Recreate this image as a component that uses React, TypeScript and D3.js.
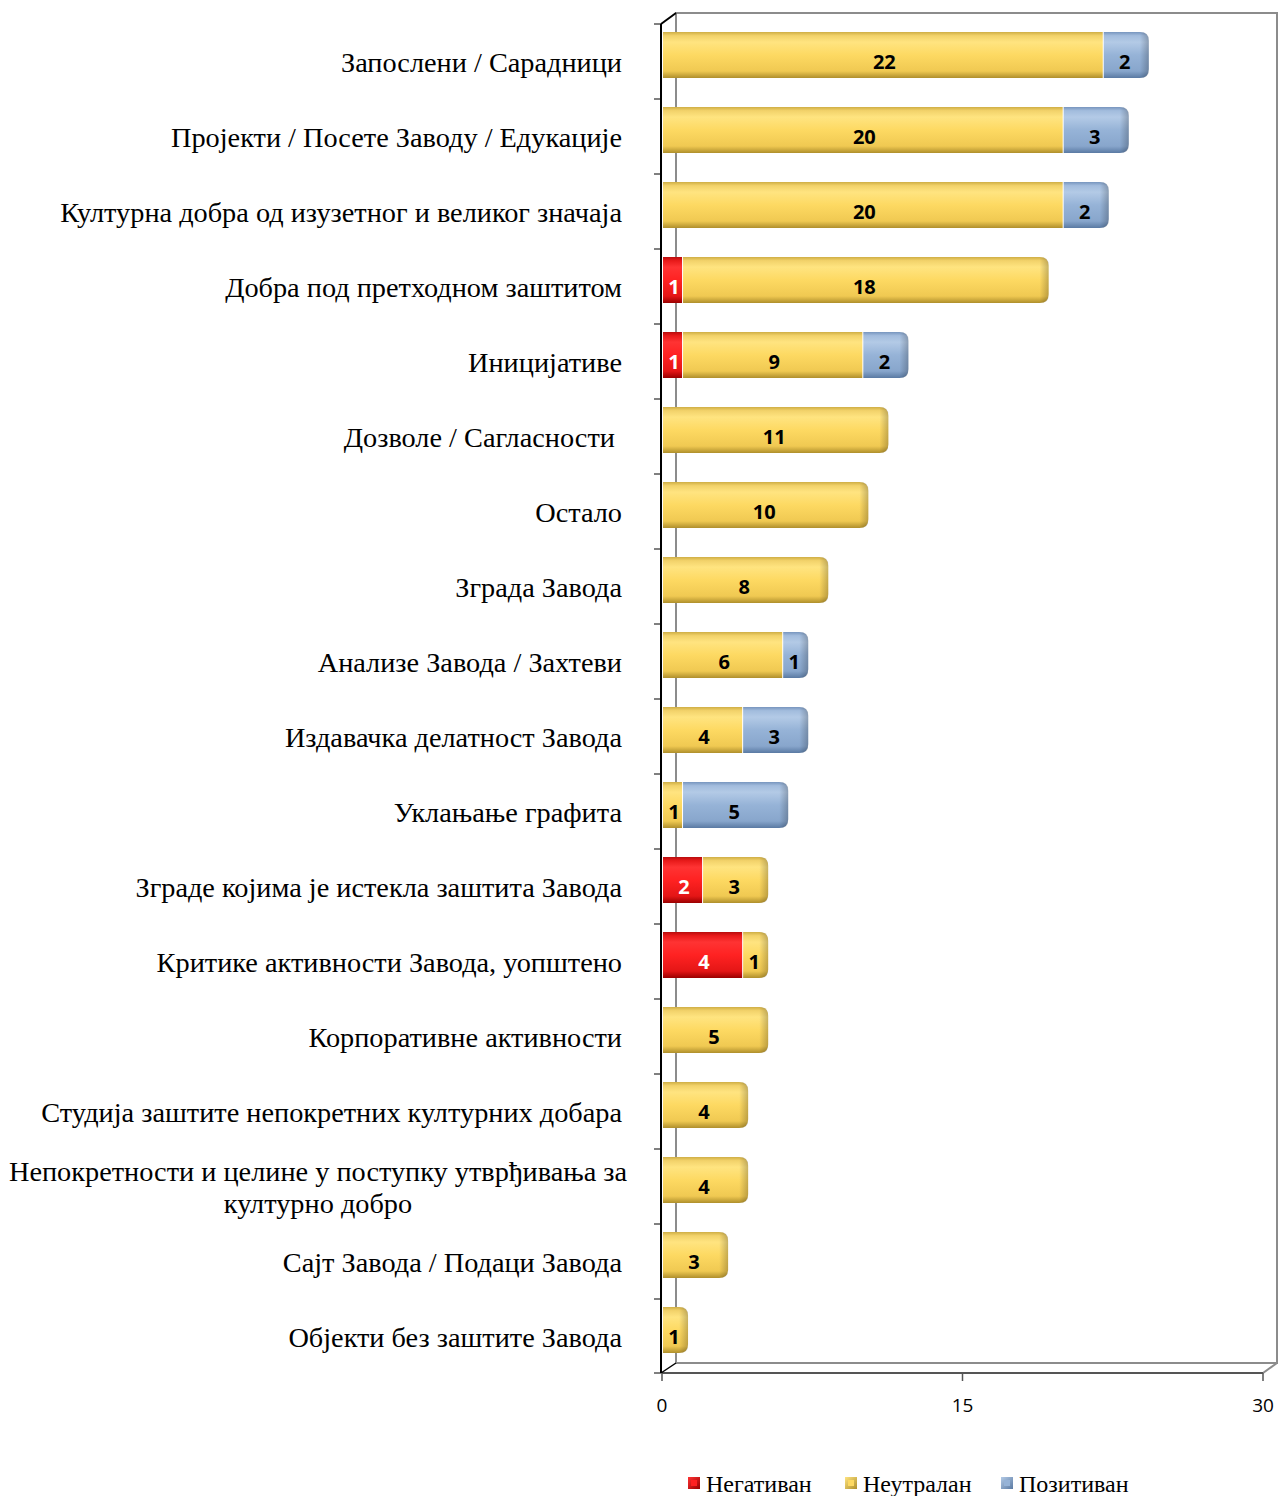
import React from "react";
import * as d3 from "d3";

const categories: string[][] = [
  ["Запослени / Сарадници"],
  ["Пројекти / Посете Заводу / Едукације"],
  ["Културна добра од изузетног и великог значаја"],
  ["Добра под претходном заштитом"],
  ["Иницијативе"],
  ["Дозволе / Сагласности "],
  ["Остало"],
  ["Зграда Завода"],
  ["Анализе Завода / Захтеви"],
  ["Издавачка делатност Завода"],
  ["Уклањање графита"],
  ["Зграде којима је истекла заштита Завода"],
  ["Критике активности Завода, уопштено"],
  ["Корпоративне активности"],
  ["Студија заштите непокретних културних добара"],
  ["Непокретности и целине у поступку утврђивања за", "културно добро"],
  ["Сајт Завода / Подаци Завода"],
  ["Објекти без заштите Завода"],
];

const negative = [0, 0, 0, 1, 1, 0, 0, 0, 0, 0, 0, 2, 4, 0, 0, 0, 0, 0];
const neutral = [22, 20, 20, 18, 9, 11, 10, 8, 6, 4, 1, 3, 1, 5, 4, 4, 3, 1];
const positive = [2, 3, 2, 0, 2, 0, 0, 0, 1, 3, 5, 0, 0, 0, 0, 0, 0, 0];

const seriesNames = ["Негативан", "Неутралан", "Позитиван"];
const xTicks = [0, 15, 30];

const W = 1279;
const H = 1496;

const gradStops: Record<string, [number, string][]> = {
  neg: [
    [0, "#B80C0C"],
    [0.08, "#E81A1A"],
    [0.22, "#FF3333"],
    [0.5, "#FF2222"],
    [0.85, "#E41616"],
    [1, "#9A0000"],
  ],
  neu: [
    [0, "#CFAE45"],
    [0.08, "#F2D26A"],
    [0.22, "#FFE480"],
    [0.5, "#FDD962"],
    [0.85, "#F0C952"],
    [1, "#AF8F2C"],
  ],
  pos: [
    [0, "#7795BE"],
    [0.08, "#A2BCDD"],
    [0.22, "#B3CAE6"],
    [0.5, "#96B3D7"],
    [0.85, "#88A6CC"],
    [1, "#5A7AA3"],
  ],
};
const keys = ["neg", "neu", "pos"];
const labelColors = ["#FFFFFF", "#000000", "#000000"];

function segPath(x0: number, x1: number, y0: number, h: number, roundRight: boolean) {
  const r = Math.min(9, (x1 - x0) * 0.9, h / 2);
  if (!roundRight) {
    return `M${x0},${y0}H${x1}V${y0 + h}H${x0}Z`;
  }
  return `M${x0},${y0}H${x1 - r}Q${x1},${y0} ${x1},${y0 + r}V${y0 + h - r}Q${x1},${y0 + h} ${x1 - r},${y0 + h}H${x0}Z`;
}

const serif = "'Liberation Serif', 'Times New Roman', serif";
const sans = "'Open Sans', sans-serif";

export default function App() {
  if (typeof document !== "undefined") document.body.style.margin = "0";

  const x = d3.scaleLinear().domain([0, 30]).range([662, 1263]);
  const y = d3
    .scaleBand<number>()
    .domain(d3.range(categories.length))
    .range([24, 1374])
    .padding(0);

  const dx = 14;
  const dy = -10;
  const x0 = x(0);
  const x30 = x(30);
  const yTop = 24;
  const yBot = 1373;

  const rows = categories.map((c, i) => {
    const vals = [negative[i], neutral[i], positive[i]];
    let acc = 0;
    const segs = vals.map((v, k) => {
      const s = { k, v, a: acc, b: acc + v };
      acc += v;
      return s;
    });
    return { c, i, segs: segs.filter((s) => s.v > 0) };
  });

  const barH = 46;

  return (
    <svg width={W} height={H} style={{ display: "block" }}>
      <defs>
        {keys.map((k) => (
          <linearGradient key={k} id={`g-${k}`} x1="0" y1="0" x2="0" y2="1">
            {gradStops[k].map(([o, c], j) => (
              <stop key={j} offset={o} stopColor={c} />
            ))}
          </linearGradient>
        ))}
        <linearGradient id="cap" x1="0" y1="0" x2="1" y2="0">
          <stop offset="0" stopColor="#000" stopOpacity="0" />
          <stop offset="1" stopColor="#000" stopOpacity="0.22" />
        </linearGradient>
        {keys.map((k) => (
          <linearGradient key={k} id={`l-${k}`} x1="0" y1="0" x2="1" y2="1">
            <stop offset="0" stopColor={gradStops[k][2][1]} />
            <stop offset="1" stopColor={gradStops[k][5][1]} />
          </linearGradient>
        ))}
      </defs>

      {/* back wall */}
      <rect x={x0 + dx} y={yTop + dy - 1} width={x30 - x0} height={yBot - yTop + 1} fill="none" stroke="#8C8C8C" strokeWidth={2} />
      <line x1={x30} y1={yBot} x2={x30 + dx} y2={yBot + dy} stroke="#8C8C8C" strokeWidth={2} />
      <line x1={x0} y1={yBot} x2={x30} y2={yBot} stroke="#555" strokeWidth={2} />
      {/* left wall */}
      <line x1={x0 - 1} y1={yTop} x2={x0 - 1} y2={yBot} stroke="#000" strokeWidth={2} />
      <line x1={x0 - 1} y1={yTop} x2={x0 + dx} y2={yTop + dy - 1} stroke="#000" strokeWidth={2} />
      <line x1={x0 - 1} y1={yBot} x2={x0 + dx} y2={yBot + dy} stroke="#000" strokeWidth={1.5} />

      {/* y ticks */}
      {d3.range(categories.length + 1).map((i) => {
        const yy = i < categories.length ? (y(i) as number) : yBot;
        return <line key={i} x1={x0 - 8} x2={x0 - 1} y1={yy} y2={yy} stroke="#000" strokeWidth={1} />;
      })}

      {/* x ticks */}
      {xTicks.map((t) => (
        <g key={t}>
          <line x1={x(t)} x2={x(t)} y1={yBot} y2={yBot + 8} stroke="#555" strokeWidth={1.5} />
          <text x={x(t)} y={1405} textAnchor="middle" dominantBaseline="central" fontFamily={sans} fontSize={19} fill="#000">
            {t}
          </text>
        </g>
      ))}

      {/* bars */}
      {rows.map((r) => {
        const band = y(r.i) as number;
        const by = band + 8;
        return (
          <g key={r.i}>
            {r.segs.map((s, j) => {
              const last = j === r.segs.length - 1;
              const xa = x(s.a) + 1;
              const xb = x(s.b) + (last ? 6 : 0);
              return (
                <g key={s.k}>
                  <path d={segPath(xa, xb, by, barH, last)} fill={`url(#g-${keys[s.k]})`} />
                  {last && <path d={segPath(Math.max(xa, xb - 9), xb, by, barH, true)} fill="url(#cap)" />}
                </g>
              );
            })}
            {r.segs.map((s) => (
              <text
                key={`t${s.k}`}
                x={x((s.a + s.b) / 2) + 2}
                y={band + 37}
                textAnchor="middle"
                dominantBaseline="central"
                fontFamily={sans}
                fontWeight="bold"
                fontSize={20}
                fill={labelColors[s.k]}
              >
                {s.v}
              </text>
            ))}
          </g>
        );
      })}

      {/* category labels */}
      {rows.map((r) => {
        const band = y(r.i) as number;
        const cy = band + 37.5;
        if (r.c.length === 1) {
          return (
            <text key={r.i} x={622} y={cy + 10.5} textAnchor="end" fontFamily={serif} fontSize={28.3} fill="#000" style={{ whiteSpace: "pre" }}>
              {r.c[0]}
            </text>
          );
        }
        return (
          <text key={r.i} textAnchor="middle" fontFamily={serif} fontSize={28.3} fill="#000">
            {r.c.map((line, k) => (
              <tspan key={k} x={318} y={cy - 5.5 + k * 32}>
                {line}
              </tspan>
            ))}
          </text>
        );
      })}

      {/* legend */}
      {seriesNames.map((n, k) => {
        const lx = [688, 845, 1001][k];
        return (
          <g key={n}>
            <rect x={lx} y={1477} width={12} height={12} fill={`url(#l-${keys[k]})`} />
            <rect x={lx + 3} y={1480} width={6} height={6} fill={gradStops[keys[k]][3][1]} />
            <text x={lx + 18} y={1492} fontFamily={serif} fontSize={24} fill="#000">
              {n}
            </text>
          </g>
        );
      })}
    </svg>
  );
}
